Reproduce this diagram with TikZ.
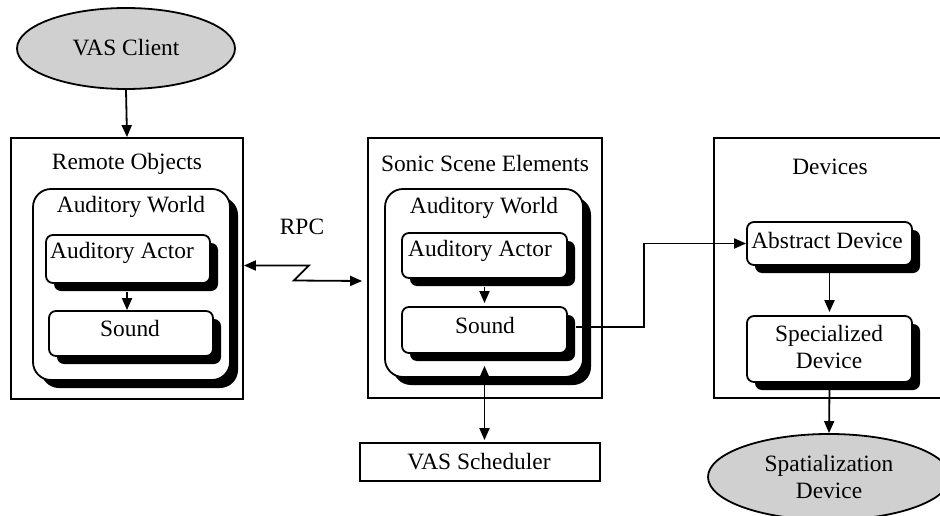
\documentclass[tikz,border=0pt]{standalone}
\usepackage{fontspec}
\setmainfont{Liberation Serif}
\usetikzlibrary{shapes.geometric,shadows,arrows.meta}
\definecolor{shade}{RGB}{208,208,208}
\begin{document}
\begin{tikzpicture}[x=1pt,y=-1pt,
  every node/.style={font=\fontsize{23.4}{27}\selectfont, inner sep=0pt},
  frame/.style={draw, line width=1.8pt, rectangle},
  oval/.style={draw, line width=1.8pt, ellipse, fill=shade},
  sbox/.style={draw, line width=1.8pt, rectangle, rounded corners=#1, fill=white,
    drop shadow={shadow xshift=8pt, shadow yshift=-8pt, fill=black, opacity=1}},
  sbox/.default=7pt,
  lbl/.style={align=center},
  arr/.style={line width=1.8pt, -{Triangle[length=12pt,width=10pt]}},
  arr2/.style={line width=1.8pt, {Triangle[length=12pt,width=10pt]}-{Triangle[length=12pt,width=10pt]}}
]
\useasboundingbox (0,0) rectangle (940,516);
\fill[white] (0,0) rectangle (940,516);

% client
\node[oval, minimum width=218pt, minimum height=81pt] (client) at (126,48.5) {};
\node (clientt) at (126,48) {VAS Client};

% Remote objects
\node[frame, minimum width=232pt, minimum height=261pt] (remote) at (127,268.5) {};
\node (remotet) at (127,164) {Remote Objects};
\node[sbox=18pt, minimum width=197pt, minimum height=191pt] (aw1) at (131.5,284.5) {};
\node (aw1t) at (131,207) {Auditory World};
\node[sbox, minimum width=164pt, minimum height=48pt] (actor1) at (128,259) {};
\node (actor1t) at (122,253) {Auditory Actor};
\node[sbox, minimum width=164pt, minimum height=45pt] (sound1) at (131,333.5) {};
\node (sound1t) at (130,328) {Sound};
\draw[arr] ([xshift=-1pt,yshift=-8pt]actor1.south) -- ([xshift=-4pt]sound1.north);

% Sonic scene
\node[frame, minimum width=234pt, minimum height=260pt] (scene) at (485,268) {};
\node (scenet) at (485,163) {Sonic Scene Elements};
\node[sbox=18pt, minimum width=198pt, minimum height=188pt] (aw2) at (484,283) {};
\node (aw2t) at (484,208) {Auditory World};
\node[sbox, minimum width=165pt, minimum height=45pt] (actor2) at (484.5,255.5) {};
\node (actor2t) at (480,251) {Auditory Actor};
\node[sbox, minimum width=165pt, minimum height=46pt] (sound2) at (484.5,330) {};
\node (sound2t) at (485,325) {Sound};
\draw[arr] ([yshift=-8pt]actor2.south) -- ([yshift=3pt]sound2.north);

% scheduler
\node[frame, minimum width=240pt, minimum height=38pt] (sched) at (480,462) {};
\node (schedt) at (479,462) {VAS Scheduler};
\draw[arr2] ([yshift=-12pt]sound2.south) -- ([yshift=2pt]sound2.south |- sched.north);

% RPC
\node (rpc) at (302,227) {RPC};
\draw[arr2] ([yshift=3pt]remote.east) -- ++(65,0) -- ++(-15,15) -- ([xshift=-5pt,yshift=-13pt]scene.west);

% Devices
\node[frame, minimum width=236pt, minimum height=260pt] (devices) at (832,268) {};
\node (devicest) at (830,167) {Devices};
\node[sbox, minimum width=165pt, minimum height=43pt] (abs) at (829.5,243.5) {};
\node (abst) at (827,240) {Abstract Device};
\node[sbox, minimum width=165pt, minimum height=66pt] (spec) at (829.5,349) {};
\node[lbl] (spect) at (829,346.5) {Specialized\\Device};
\draw[arr] ([yshift=-7pt]abs.south) -- ([yshift=3pt]spec.north);
\draw[arr] ([xshift=8pt,yshift=3pt]sound2.east) -- ++(68,0) |- (abs.west);

% Spatialization
\node[oval, minimum width=242pt, minimum height=86pt] (spat) at (829,477) {};
\node[lbl] (spatt) at (829,476.5) {Spatialization\\Device};
\draw[arr] ([yshift=-7pt]spec.south) -- (spat.north);
\draw[arr] (client.south) -- (remote.north);
\end{tikzpicture}
\end{document}
